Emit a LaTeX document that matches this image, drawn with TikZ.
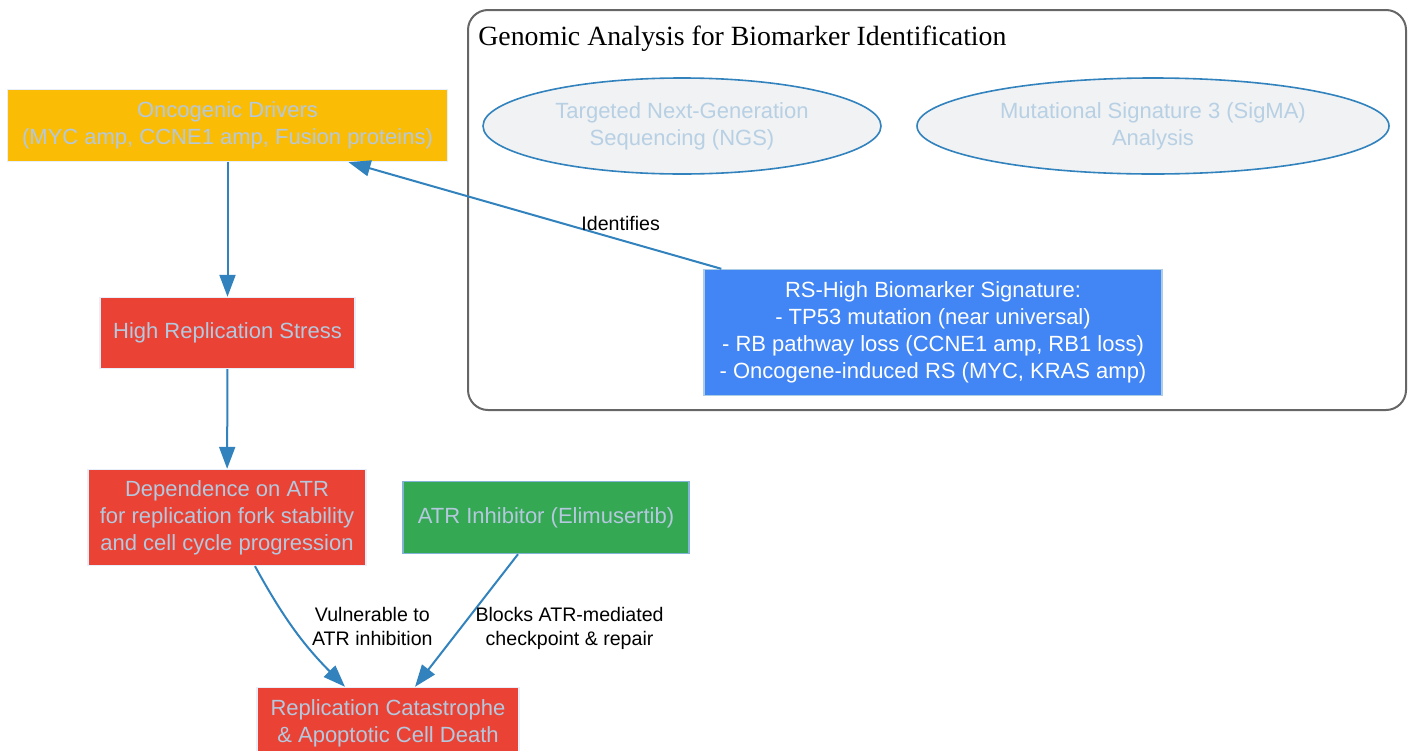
\documentclass[tikz,border=0pt]{standalone}
\usepackage{fontspec}
\setmainfont{Liberation Sans}
\newfontfamily\clusterfont{Liberation Serif}
\usetikzlibrary{shapes,arrows.meta}
\definecolor{drvyellow}{RGB}{251,188,5}
\definecolor{stressred}{RGB}{234,67,53}
\definecolor{drggreen}{RGB}{52,168,83}
\definecolor{sigblue}{RGB}{66,133,244}
\definecolor{edgeblue}{RGB}{49,130,189}
\definecolor{lighttxt}{RGB}{180,200,222}
\definecolor{elltxt}{RGB}{184,208,228}
\definecolor{ellfill}{RGB}{240,242,244}
\definecolor{boxline}{RGB}{232,238,250}
\definecolor{clustgray}{RGB}{102,102,102}
\tikzset{
  box/.style={rectangle, draw=boxline, line width=0.7pt, align=center,
    text=lighttxt, inner sep=0pt, font=\fontsize{11}{13.5}\selectfont},
  drvbox/.style={box, fill=drvyellow},
  redbox/.style={box, fill=stressred},
  drgbox/.style={box, fill=drggreen, draw=edgeblue!60},
  sigbox/.style={box, fill=sigblue, draw=edgeblue!40, text=white},
  method/.style={ellipse, draw=edgeblue, line width=0.8pt, fill=ellfill,
    align=center, text=elltxt, inner sep=0pt, font=\fontsize{11}{13.5}\selectfont},
  edge/.style={draw=edgeblue, line width=1pt,
    -{Triangle[length=11pt,width=8pt]}},
  lbl/.style={align=center, inner sep=0pt, font=\fontsize{9.8}{12}\selectfont}
}
\begin{document}
\begin{tikzpicture}[x=0.5pt,y=-0.5pt]
  \useasboundingbox (0,0) rectangle (1412,750);
  % genomic analysis cluster
  \draw[clustgray, line width=1pt, rounded corners=10pt] (468,10) rectangle (1406,410);
  \node[anchor=base west, inner sep=0pt, font=\clusterfont\fontsize{13.9}{16}\selectfont]
    (clustertitle) at (478,45) {Genomic Analysis for Biomarker Identification};
  \node[method, minimum width=199pt, minimum height=48pt] (ngs) at (682,126)
    {Targeted Next-Generation\\Sequencing (NGS)};
  \node[method, minimum width=236pt, minimum height=48pt] (sigma) at (1153,126)
    {Mutational Signature 3 (SigMA)\\Analysis};
  \node[sigbox, minimum width=229pt, minimum height=63pt] (rshigh) at (933,332.5)
    {RS-High Biomarker Signature:\\- TP53 mutation (near universal)\\
     - RB pathway loss (CCNE1 amp, RB1 loss)\\- Oncogene-induced RS (MYC, KRAS amp)};

  % pathway
  \node[drvbox, minimum width=220pt, minimum height=36pt] (drivers) at (227.5,125.5)
    {Oncogenic Drivers\\(MYC amp, CCNE1 amp, Fusion proteins)};
  \node[redbox, minimum width=127.5pt, minimum height=35.5pt] (stress) at (227.5,333)
    {High Replication Stress};
  \node[redbox, minimum width=139pt, minimum height=48pt] (atrdep) at (227,517.5)
    {Dependence on ATR\\for replication fork stability\\and cell cycle progression};
  \node[drgbox, minimum width=143pt, minimum height=36pt] (atri) at (546,517.5)
    {ATR Inhibitor (Elimusertib)};
  \node[redbox, minimum width=131pt, minimum height=36pt] (death) at (388,723.5)
    {Replication Catastrophe\\\& Apoptotic Cell Death};

  \draw[edge] (drivers) -- (stress);
  \draw[edge] (stress) -- (atrdep);
  \draw[edge] ([xshift=14pt]atrdep.south) to[bend right=8]
    node[lbl, pos=0.5, anchor=west, xshift=8pt, yshift=2pt] {Vulnerable to\\ATR inhibition}
    ([xshift=-21.5pt]death.north);
  \draw[edge] ([xshift=-14pt]atri.south) --
    node[lbl, pos=0.5, anchor=west, xshift=4pt, yshift=-4pt] {Blocks ATR-mediated\\checkpoint \& repair}
    ([xshift=13.5pt]death.north);
  \draw[edge] ([xshift=9pt]rshigh.north west) --
    node[lbl, pos=0.27, anchor=south, yshift=4pt] {Identifies}
    ([xshift=60.5pt]drivers.south);
\end{tikzpicture}
\end{document}
